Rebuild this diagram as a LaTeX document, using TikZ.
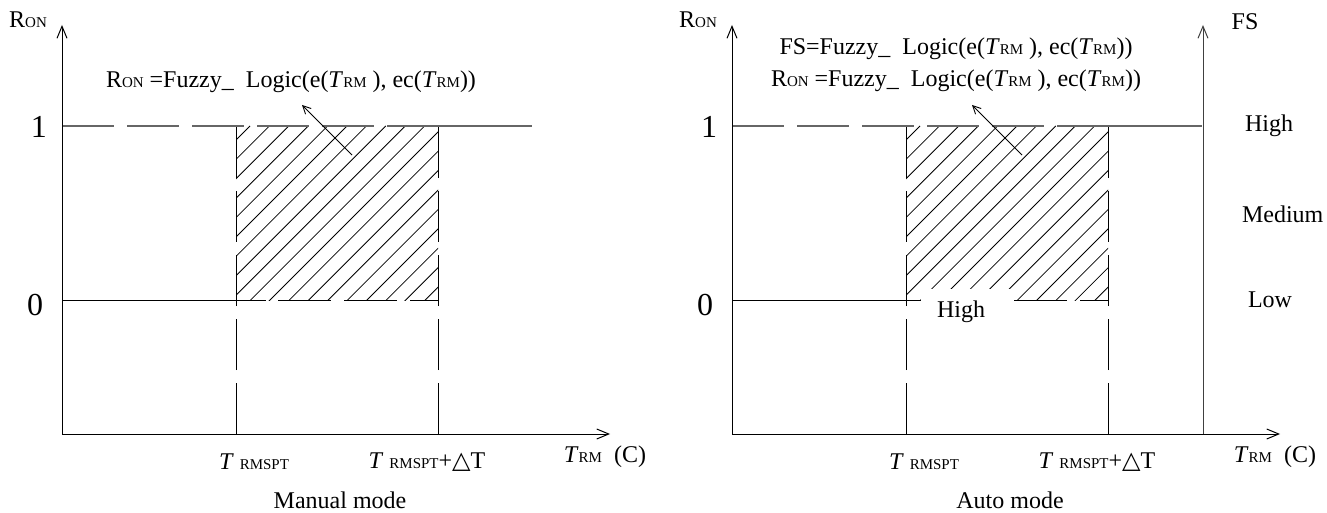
\documentclass[tikz,border=0pt]{standalone}
\usepackage{fontspec}
\setmainfont{Liberation Serif}
\newfontfamily\symfont{DejaVu Sans}
\usepackage{tikz}
\usetikzlibrary{arrows.meta}

\newcommand{\smcaps}[1]{{\fontsize{7.5}{8}\selectfont #1}}
\newcommand{\trm}{\textit{T}\smcaps{RM}}

\begin{document}
\begin{tikzpicture}[
  x=0.5pt, y=-0.5pt,
  font=\fontsize{12}{14}\selectfont,
  axis/.style={-{Straight Barb[length=6pt,width=5pt]}, line width=0.5pt},
  guide/.style={line width=0.5pt, dash pattern=on 25.5pt off 6.5pt},
  level/.style={line width=0.7pt, draw=black!60},
  hatch/.style={line width=0.4pt},
  pointer/.style={-{Straight Barb[length=4pt,width=4pt]}, line width=0.45pt},
  tick/.style={font=\fontsize{16}{18}\selectfont},
]
\useasboundingbox (0,0) rectangle (1327,513);

% both panels share the same frame
\foreach \dx/\mode in {0/Manual mode, 670/Auto mode} {
  \begin{scope}[shift={(\dx,0)}]
    \coordinate (o\dx) at (62,434);
    % hatched band
    \begin{scope}
      \clip (236,126) rectangle (438,300);
      \foreach \k in {0,...,18}
        \draw[hatch] ({250+19.4*\k},126) -- ++(-180,180);
    \end{scope}
    \draw[guide] (236,434) -- (236,126);
    \draw[guide] (438,434) -- (438,126);
    % levels 0 and 1
    \draw[line width=0.5pt] (62,300) -- (266,300);
    \draw[line width=0.5pt, dash pattern=on 26.5pt off 6.5pt] (278,300) -- (438,300);
    \draw[level, dash pattern=on 26pt off 6.5pt] (62,126) -- (387,126);
    \draw[level] (387,126) -- (532,126);
    % axes
    \draw[axis] (o\dx) -- (62,25);
    \draw[axis] (o\dx) -- (610,434);
    \coordinate (tail\dx) at (352,155);
    \coordinate (head\dx) at (302,105);
    \draw[pointer] (tail\dx) -- (head\dx);
    % labels
    \node[tick] (one\dx) at (39,127) {1};
    \node[tick] (zero\dx) at (35,305) {0};
    \node (ron\dx) at (28,20) {R\smcaps{ON}};
    \node (tsp\dx) at (254,462) {\textit{T} \smcaps{RMSPT}};
    \node (tdt\dx) at (427,462) {\textit{T} \smcaps{RMSPT}+{\symfont △}T};
    \node (tx\dx) at (605,457) {\trm\ \ (C)};
    \node (mode\dx) at (340,500) {\mode};
  \end{scope}
}

\node (eqman) at (291,82) {R\smcaps{ON} =Fuzzy\_\ \ Logic(e(\trm\ ), ec(\trm))};

% auto mode extras
\draw[axis, draw=black!75] (o670 -| 1203,0) -- (1203,25);
\node (fs) at (1245,22) {FS};
\node (eqfs) at (956,49) {FS=Fuzzy\_\ \ Logic(e(\trm\ ), ec(\trm))};
\node (eqauto) at (956,81) {R\smcaps{ON} =Fuzzy\_\ \ Logic(e(\trm\ ), ec(\trm))};
\node[anchor=west] (fshigh) at (1238,126) {High};
\node[anchor=west] (fsmed) at (1235,214) {Medium};
\node[anchor=west] (fslow) at (1241,300) {Low};
\fill[white] (921,289) rectangle (1014,306);
\node (high) at (961,312) {High};
\end{tikzpicture}
\end{document}
